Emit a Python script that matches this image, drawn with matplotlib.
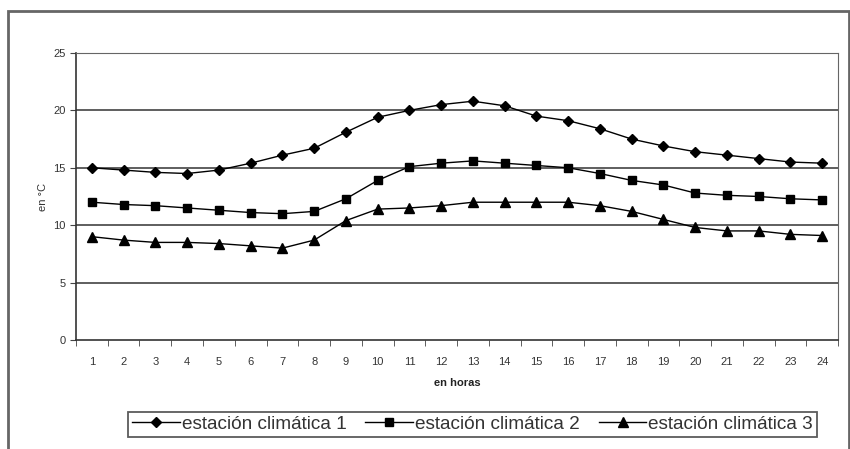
import matplotlib.pyplot as plt
from matplotlib.patches import Rectangle

plt.rcParams['font.family'] = ['Liberation Sans', 'DejaVu Sans']

# temperatures per hour
hours = list(range(1, 25))
estacion1 = [15.0, 14.8, 14.6, 14.5, 14.8, 15.4, 16.1, 16.7, 18.1, 19.4, 20.0, 20.5,
             20.8, 20.4, 19.5, 19.1, 18.4, 17.5, 16.9, 16.4, 16.1, 15.8, 15.5, 15.4]
estacion2 = [12.0, 11.8, 11.7, 11.5, 11.3, 11.1, 11.0, 11.2, 12.3, 13.9, 15.1, 15.4,
             15.6, 15.4, 15.2, 15.0, 14.5, 13.9, 13.5, 12.8, 12.6, 12.5, 12.3, 12.2]
estacion3 = [9.0, 8.7, 8.5, 8.5, 8.4, 8.2, 8.0, 8.7, 10.4, 11.4, 11.5, 11.7,
             12.0, 12.0, 12.0, 12.0, 11.7, 11.2, 10.5, 9.8, 9.5, 9.5, 9.2, 9.1]
series_names = ['estación climática 1', 'estación climática 2', 'estación climática 3']
yticks = [0, 5, 10, 15, 20, 25]

fig = plt.figure(figsize=(8.5, 4.49), dpi=100)
ax = fig.add_axes([0.0894, 0.2428, 0.8966, 0.6392])

txt = '#333333'
ax.plot(hours, estacion1, color='black', lw=1, marker='D', ms=5.5, label=series_names[0])
ax.plot(hours, estacion2, color='black', lw=1, marker='s', ms=6, label=series_names[1])
ax.plot(hours, estacion3, color='black', lw=1, marker='^', ms=6.5, label=series_names[2])

ax.set_xlim(0.5, 24.5)
ax.set_ylim(0, 25)
ax.set_yticks(yticks)
ax.set_xticks(hours)
ax.set_xticks([h + 0.5 for h in range(0, 25)], minor=True)
ax.tick_params(axis='x', which='major', length=0, labelsize=8, labelcolor=txt, pad=12)
ax.tick_params(axis='x', which='minor', length=4, direction='out', color='#444444')
ax.tick_params(axis='y', length=4, direction='out', labelsize=8, labelcolor=txt, color='#444444')

for y in yticks[1:]:
    ax.axhline(y, color='#333333', lw=1.1, zorder=0)

for side in ['top', 'right']:
    ax.spines[side].set_color('#666666')
for side in ['left', 'bottom']:
    ax.spines[side].set_color('#333333')
    ax.spines[side].set_linewidth(1.2)

ax.set_ylabel('en °C', fontsize=8, color=txt, labelpad=4)
ax.set_xlabel('en horas', fontsize=8, color='#222222', fontweight='bold', labelpad=8)

leg = fig.legend(loc='center', bbox_to_anchor=(0.556, 0.055), ncol=3, fontsize=13.7,
                 frameon=True, fancybox=False, edgecolor='#333333',
                 handlelength=2.5, columnspacing=1.0, borderpad=0.2, handletextpad=0.1)
leg.get_frame().set_linewidth(1.3)
for t in leg.get_texts():
    t.set_color(txt)

# outer chart border
fig.patches.append(Rectangle((0.009, -0.01), 0.99, 0.985, transform=fig.transFigure,
                             fill=False, edgecolor='#666666', lw=2))

fig.savefig('out.png', dpi=100)
